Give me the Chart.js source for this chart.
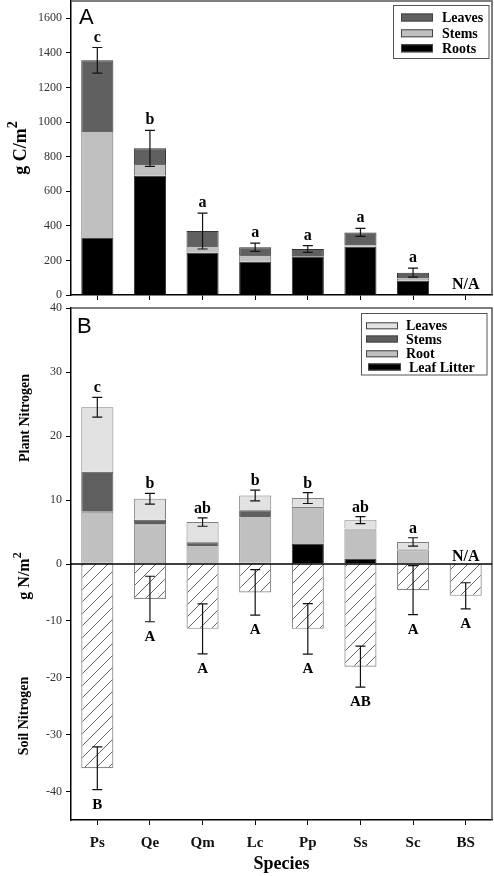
<!DOCTYPE html>
<html><head><meta charset="utf-8">
<script src="https://cdn.jsdelivr.net/npm/chart.js@4.4.0/dist/chart.umd.min.js"></script>
<style>
html,body{margin:0;padding:0;background:#fff;width:494px;height:876px;overflow:hidden}
#ca{position:absolute;left:0;top:0}
#cb{position:absolute;left:0;top:300px}
</style></head><body>
<canvas id="ca" width="494" height="300"></canvas>
<canvas id="cb" width="494" height="576"></canvas>
<script>
const species = ['Ps','Qe','Qm','Lc','Pp','Ss','Sc','BS'];

// Panel A: carbon (g C/m2)
const cTicks = [0,200,400,600,800,1000,1200,1400,1600];
const cRoots  = [333, 690, 245, 192, 221, 279, 83, null];
const cStems  = [615, 67, 38, 39, 0, 16, 13, null];
const cLeaves = [409, 91, 87, 45, 45, 67, 33, null];
const cErr    = [74, 104, 104, 24, 19, 23, 26, null];
const cLetters = ['c','b','a','a','a','a','a','N/A'];

// Panel B: nitrogen (g N/m2)
const nPlantTicks = [0,10,20,30,40];
const nSoilTicks  = [-40,-30,-20,-10];
const nLitter = [0.2, 0, 0, 0.2, 3.2, 0.87, 0, null];
const nRoot   = [7.97, 6.2, 2.75, 7.05, 5.7, 4.53, 2.15, null];
const nStems  = [6.23, 0.7, 0.65, 1.15, 0.05, 0.1, 0.1, null];
const nLeaves = [10.1, 3.3, 3.15, 2.3, 1.35, 1.35, 1.2, null];
const nPlantErr = [1.55, 0.85, 0.65, 0.85, 0.85, 0.55, 0.65, null];
const nPlantLetters = ['c','b','ab','b','b','ab','a','N/A'];
const nSoil    = [-35.9, -6.15, -11.4, -5.0, -11.4, -18.05, -4.6, -5.6];
const nSoilErr = [3.75, 4.0, 4.4, 4.0, 4.45, 3.6, 4.3, 2.3];
const nSoilLetters = ['B','A','A','A','A','AB','A','A'];

const SERIF = '"Liberation Serif", "Times New Roman", serif';
const SANS = '"Liberation Sans", Arial, sans-serif';

function errBar(ctx, x, y1, y2, cap){
  ctx.beginPath();
  ctx.moveTo(x, y1); ctx.lineTo(x, y2);
  ctx.moveTo(x-cap, y1); ctx.lineTo(x+cap, y1);
  ctx.moveTo(x-cap, y2); ctx.lineTo(x+cap, y2);
  ctx.stroke();
}
function rotText(ctx, main, sup, cx, cy, size){
  ctx.save();
  ctx.translate(cx, cy); ctx.rotate(-Math.PI/2);
  ctx.font = 'bold '+size+'px '+SERIF;
  const w1 = ctx.measureText(main).width;
  ctx.font = 'bold '+Math.round(size*0.75)+'px '+SERIF;
  const w2 = sup ? ctx.measureText(sup).width : 0;
  const x0 = -(w1+w2)/2;
  ctx.fillStyle = '#000'; ctx.textBaseline = 'middle'; ctx.textAlign = 'left';
  ctx.font = 'bold '+size+'px '+SERIF;
  ctx.fillText(main, x0, 0);
  if (sup){
    ctx.font = 'bold '+Math.round(size*0.75)+'px '+SERIF;
    ctx.fillText(sup, x0+w1, -size*0.42);
  }
  ctx.restore();
}
function drawLegend(ctx, box, entries){
  ctx.save();
  ctx.fillStyle='#fff'; ctx.fillRect(box[0],box[1],box[2],box[3]);
  ctx.strokeStyle='#555'; ctx.lineWidth=1; ctx.strokeRect(box[0],box[1],box[2],box[3]);
  ctx.font = 'bold 14px '+SERIF; ctx.textBaseline='middle'; ctx.textAlign='left';
  entries.forEach(e=>{
    ctx.fillStyle=e.color; ctx.fillRect(e.sx, e.cy-e.h/2, e.sw, e.h);
    ctx.strokeStyle='#444'; ctx.lineWidth=1; ctx.strokeRect(e.sx+0.5, e.cy-e.h/2+0.5, e.sw-1, e.h-1);
    ctx.fillStyle='#000'; ctx.fillText(e.label, e.tx, e.cy+1);
  });
  ctx.restore();
}
function frame(ctx, a){
  ctx.save(); ctx.strokeStyle='#555'; ctx.lineWidth=1.5;
  ctx.beginPath(); ctx.moveTo(a.left, a.top); ctx.lineTo(a.right, a.top); ctx.lineTo(a.right, a.bottom); ctx.stroke();
  ctx.restore();
}
const plainTick = v => String(v);

const plugA = {
  id:'plugA',
  afterDraw(chart){
    const ctx = chart.ctx, a = chart.chartArea, x = chart.scales.x, y = chart.scales.y;
    frame(ctx, a);
    ctx.save();
    ctx.strokeStyle='#111'; ctx.lineWidth=1.2;
    ctx.textAlign='center'; ctx.textBaseline='alphabetic'; ctx.fillStyle='#000';
    species.forEach((s,i)=>{
      const px = x.getPixelForValue(i);
      if (cRoots[i] === null){
        ctx.font='bold 16px '+SERIF;
        ctx.fillText(cLetters[i], px, y.getPixelForValue(0)-6);
        return;
      }
      const tot = cRoots[i]+cStems[i]+cLeaves[i];
      const yt = y.getPixelForValue(tot+cErr[i]), yb = y.getPixelForValue(tot-cErr[i]);
      errBar(ctx, px, yt, yb, 5);
      ctx.font='bold 16px '+SERIF;
      ctx.fillText(cLetters[i], px, yt-6);
    });
    ctx.restore();
    const ds = chart.data.datasets;
    drawLegend(ctx, [393.5,5.5,95.5,53], [
      {label:ds[2].label, color:ds[2].backgroundColor, sx:401, sw:32, h:8, cy:17.5, tx:442},
      {label:ds[1].label, color:ds[1].backgroundColor, sx:401, sw:32, h:8, cy:33.3, tx:442},
      {label:ds[0].label, color:ds[0].backgroundColor, sx:401, sw:32, h:8, cy:48.3, tx:442}
    ]);
    ctx.save(); ctx.fillStyle='#000'; ctx.font='22px '+SANS; ctx.textAlign='left'; ctx.textBaseline='alphabetic';
    ctx.fillText('A', 79, 24); ctx.restore();
    rotText(ctx, 'g C/m', '2', 21, (a.top+a.bottom)/2, 18);
  }
};

new Chart(document.getElementById('ca'), {
  type:'bar',
  data:{labels:species, datasets:[
    {label:'Roots',  data:cRoots,  backgroundColor:'#000000', borderColor:'#333', borderWidth:1},
    {label:'Stems',  data:cStems,  backgroundColor:'#c0c0c0', borderColor:'#666', borderWidth:1},
    {label:'Leaves', data:cLeaves, backgroundColor:'#606060', borderColor:'#333', borderWidth:1}
  ]},
  options:{
    responsive:false, animation:false, devicePixelRatio:1,
    layout:{padding:{top:1,right:2,left:0,bottom:0}},
    plugins:{legend:{display:false}, tooltip:{enabled:false}},
    datasets:{bar:{barPercentage:0.61, categoryPercentage:1}},
    scales:{
      x:{stacked:true, grid:{offset:false, drawOnChartArea:false, tickLength:5, color:'#000'},
         border:{color:'#000', width:1.5}, ticks:{display:false},
         afterFit:s=>{s.height=5; s.paddingLeft=0; s.paddingRight=0;}},
      y:{stacked:true, min:0, max:1700,
         afterBuildTicks:s=>{s.ticks=cTicks.map(v=>({value:v}));},
         grid:{drawOnChartArea:false, tickLength:5, color:'#000'},
         border:{color:'#000', width:1.5},
         ticks:{font:{family:SERIF, size:12}, color:'#333', padding:4, callback:plainTick},
         afterFit:s=>{s.width=71; s.paddingTop=0; s.paddingBottom=0;}}
    }
  },
  plugins:[plugA]
});

function hatch(){
  const n=12;
  const c=document.createElement('canvas'); c.width=n; c.height=n;
  const g=c.getContext('2d'); g.fillStyle='#fff'; g.fillRect(0,0,n,n);
  g.strokeStyle='#555'; g.lineWidth=0.9;
  g.beginPath(); g.moveTo(0,n); g.lineTo(n,0); g.moveTo(-3,3); g.lineTo(3,-3); g.moveTo(n-3,n+3); g.lineTo(n+3,n-3); g.stroke();
  return g.createPattern(c,'repeat');
}

const plugB = {
  id:'plugB',
  afterDraw(chart){
    const ctx = chart.ctx, a = chart.chartArea, x = chart.scales.x, yt = chart.scales.yTop, yb = chart.scales.yBot;
    frame(ctx, a);
    ctx.save();
    ctx.strokeStyle='#000'; ctx.lineWidth=1.5;
    const y0 = yt.getPixelForValue(0);
    ctx.beginPath(); ctx.moveTo(a.left, y0); ctx.lineTo(a.right, y0); ctx.stroke();
    ctx.strokeStyle='#111'; ctx.lineWidth=1.2;
    ctx.textAlign='center'; ctx.textBaseline='alphabetic'; ctx.fillStyle='#000';
    species.forEach((s,i)=>{
      const px = x.getPixelForValue(i);
      if (nRoot[i] === null){
        ctx.font='bold 16px '+SERIF;
        ctx.fillText(nPlantLetters[i], px, y0-3);
      } else {
        const tot = nLitter[i]+nRoot[i]+nStems[i]+nLeaves[i];
        const p1 = yt.getPixelForValue(tot+nPlantErr[i]), p2 = yt.getPixelForValue(tot-nPlantErr[i]);
        errBar(ctx, px, p1, p2, 5);
        ctx.font='bold 16px '+SERIF;
        ctx.fillText(nPlantLetters[i], px, p1-5);
      }
      const q1 = yb.getPixelForValue(nSoil[i]+nSoilErr[i]), q2 = yb.getPixelForValue(nSoil[i]-nSoilErr[i]);
      errBar(ctx, px, q1, q2, 5);
      ctx.font='bold 15px '+SERIF;
      ctx.fillText(nSoilLetters[i], px, q2+19);
    });
    ctx.restore();
    const ds = chart.data.datasets;
    drawLegend(ctx, [361.5,13.5,125.5,61.5], [
      {label:ds[3].label, color:ds[3].backgroundColor, sx:366, sw:32, h:7, cy:25.8, tx:406},
      {label:ds[2].label, color:ds[2].backgroundColor, sx:366, sw:32, h:7, cy:39, tx:406},
      {label:ds[1].label, color:ds[1].backgroundColor, sx:366, sw:32, h:7, cy:53.8, tx:406},
      {label:ds[0].label, color:ds[0].backgroundColor, sx:368, sw:33, h:7, cy:67, tx:409}
    ]);
    ctx.save(); ctx.fillStyle='#000'; ctx.font='22px '+SANS; ctx.textAlign='left'; ctx.textBaseline='alphabetic';
    ctx.fillText('B', 77, 33); ctx.restore();
    rotText(ctx, 'Plant Nitrogen', '', 25, 118, 14);
    rotText(ctx, 'g N/m', '2', 25, 276, 16);
    rotText(ctx, 'Soil Nitrogen', '', 24, 416, 14);
  }
};

const segB = '#808080';
new Chart(document.getElementById('cb'), {
  type:'bar',
  data:{labels:species, datasets:[
    {label:'Leaf Litter', data:nLitter, yAxisID:'yTop', backgroundColor:'#000000', borderColor:'#333', borderWidth:1},
    {label:'Root',   data:nRoot,   yAxisID:'yTop', backgroundColor:'#c0c0c0', borderColor:segB, borderWidth:1},
    {label:'Stems',  data:nStems,  yAxisID:'yTop', backgroundColor:'#5f5f5f', borderColor:'#555', borderWidth:1},
    {label:'Leaves', data:nLeaves, yAxisID:'yTop', backgroundColor:'#e2e2e2', borderColor:segB, borderWidth:1},
    {label:'Soil', data:nSoil, yAxisID:'yBot', backgroundColor:hatch(), borderColor:'#888', borderWidth:1.2}
  ]},
  options:{
    responsive:false, animation:false, devicePixelRatio:1,
    layout:{padding:{top:8,right:2,left:0,bottom:0}},
    plugins:{legend:{display:false}, tooltip:{enabled:false}},
    datasets:{bar:{barPercentage:0.61, categoryPercentage:1}},
    scales:{
      x:{stacked:true, grid:{offset:false, drawOnChartArea:false, tickLength:5, color:'#000'},
         border:{color:'#000', width:1.5},
         ticks:{font:{family:SERIF, size:15, weight:'bold'}, color:'#111', padding:9, maxRotation:0, autoSkip:false},
         title:{display:true, text:'Species', font:{family:SERIF, size:18, weight:'bold'}, color:'#000', padding:{top:0,bottom:1}},
         afterFit:s=>{s.height=56; s.paddingLeft=0; s.paddingRight=0;}},
      yBot:{type:'linear', position:'left', stack:'n', stackWeight:1, stacked:true, min:-45, max:0,
         afterBuildTicks:s=>{s.ticks=nSoilTicks.map(v=>({value:v}));},
         grid:{drawOnChartArea:false, tickLength:5, color:'#000'},
         border:{color:'#000', width:1.5},
         ticks:{font:{family:SERIF, size:12}, color:'#333', padding:4, callback:plainTick},
         afterFit:s=>{s.width=71; s.paddingTop=0; s.paddingBottom=0;}},
      yTop:{type:'linear', position:'left', stack:'n', stackWeight:1, stacked:true, min:0, max:40,
         afterBuildTicks:s=>{s.ticks=nPlantTicks.map(v=>({value:v}));},
         grid:{drawOnChartArea:false, tickLength:5, color:'#000'},
         border:{color:'#000', width:1.5},
         ticks:{font:{family:SERIF, size:12}, color:'#333', padding:4, callback:plainTick},
         afterFit:s=>{s.width=71; s.paddingTop=0; s.paddingBottom=0;}}
    }
  },
  plugins:[plugB]
});
</script>
</body></html>
